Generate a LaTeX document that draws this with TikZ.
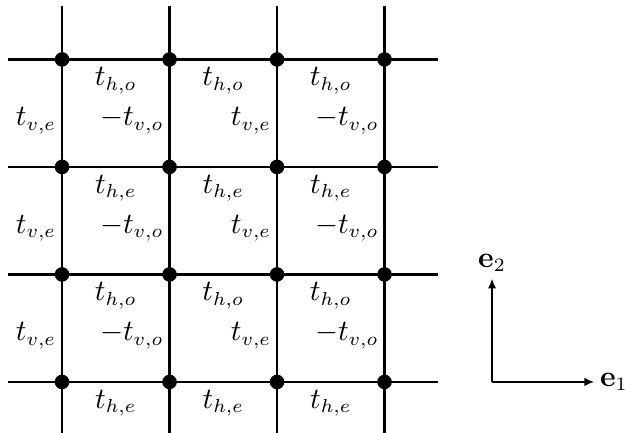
\documentclass[tikz,border=0pt]{standalone}
\usepackage{amsmath,amssymb}
\usepackage{tikz}
\usetikzlibrary{positioning,arrows.meta}

\begin{document}
\begin{tikzpicture}[
    x=1.4cm, y=1.4cm,
    lineStyle/.style={line width=1pt, draw=black},
    dotStyle/.style={circle, fill=black, inner sep=0pt, minimum size=0.19cm},
    hopStyle/.style={font=\fontsize{10.5}{12}\selectfont},
    axisStyle/.style={-{Latex[length=1.3mm,width=1.1mm]}, line width=1pt}
]
    \useasboundingbox (-0.577,-0.474) rectangle (5.237,3.553);

    % lattice lines
    \foreach \k in {0,...,3} {
        \coordinate (left\k) at (-0.5,\k);
        \coordinate (right\k) at (3.5,\k);
        \coordinate (bot\k) at (\k,-0.5);
        \coordinate (top\k) at (\k,3.5);
        \draw[lineStyle] (left\k) -- (right\k);
        \draw[lineStyle] (bot\k) -- (top\k);
    }

    % lattice sites
    \foreach \i in {0,...,3}
        \foreach \j in {0,...,3}
            \node[dotStyle] (site\i\j) at (\i,\j) {};

    % horizontal hoppings
    \foreach \j/\parity in {3/o,2/e,1/o,0/e}
        \foreach \i in {0,1,2}
            \node[hopStyle] (hor\i\j) at (\i+0.5,\j-0.2) {$t_{h,\parity}$};

    % vertical hoppings
    \foreach \j in {0,1,2} {
        \node[hopStyle, anchor=east, inner sep=2pt] (ver0\j) at (0,\j+0.43) {$t_{v,e}$};
        \node[hopStyle, anchor=east, inner sep=2pt] (ver1\j) at (1,\j+0.43) {$-t_{v,o}$};
        \node[hopStyle, anchor=east, inner sep=2pt] (ver2\j) at (2,\j+0.43) {$t_{v,e}$};
        \node[hopStyle, anchor=east, inner sep=2pt] (ver3\j) at (3,\j+0.43) {$-t_{v,o}$};
    }

    % basis vectors
    \coordinate (origin) at (4,0);
    \node[inner sep=0pt] (tipOne) at (4.97,0) {};
    \node[inner sep=0pt] (tipTwo) at (4,0.98) {};
    \draw[axisStyle] (origin) -- (tipOne);
    \draw[axisStyle] (origin) -- (tipTwo);
    \node[right=0.5pt of tipOne, inner sep=0pt, hopStyle] (labOne) {$\mathbf{e}_1$};
    \node[above=1pt of tipTwo, inner sep=0pt, hopStyle] (labTwo) {$\mathbf{e}_2$};
\end{tikzpicture}
\end{document}
